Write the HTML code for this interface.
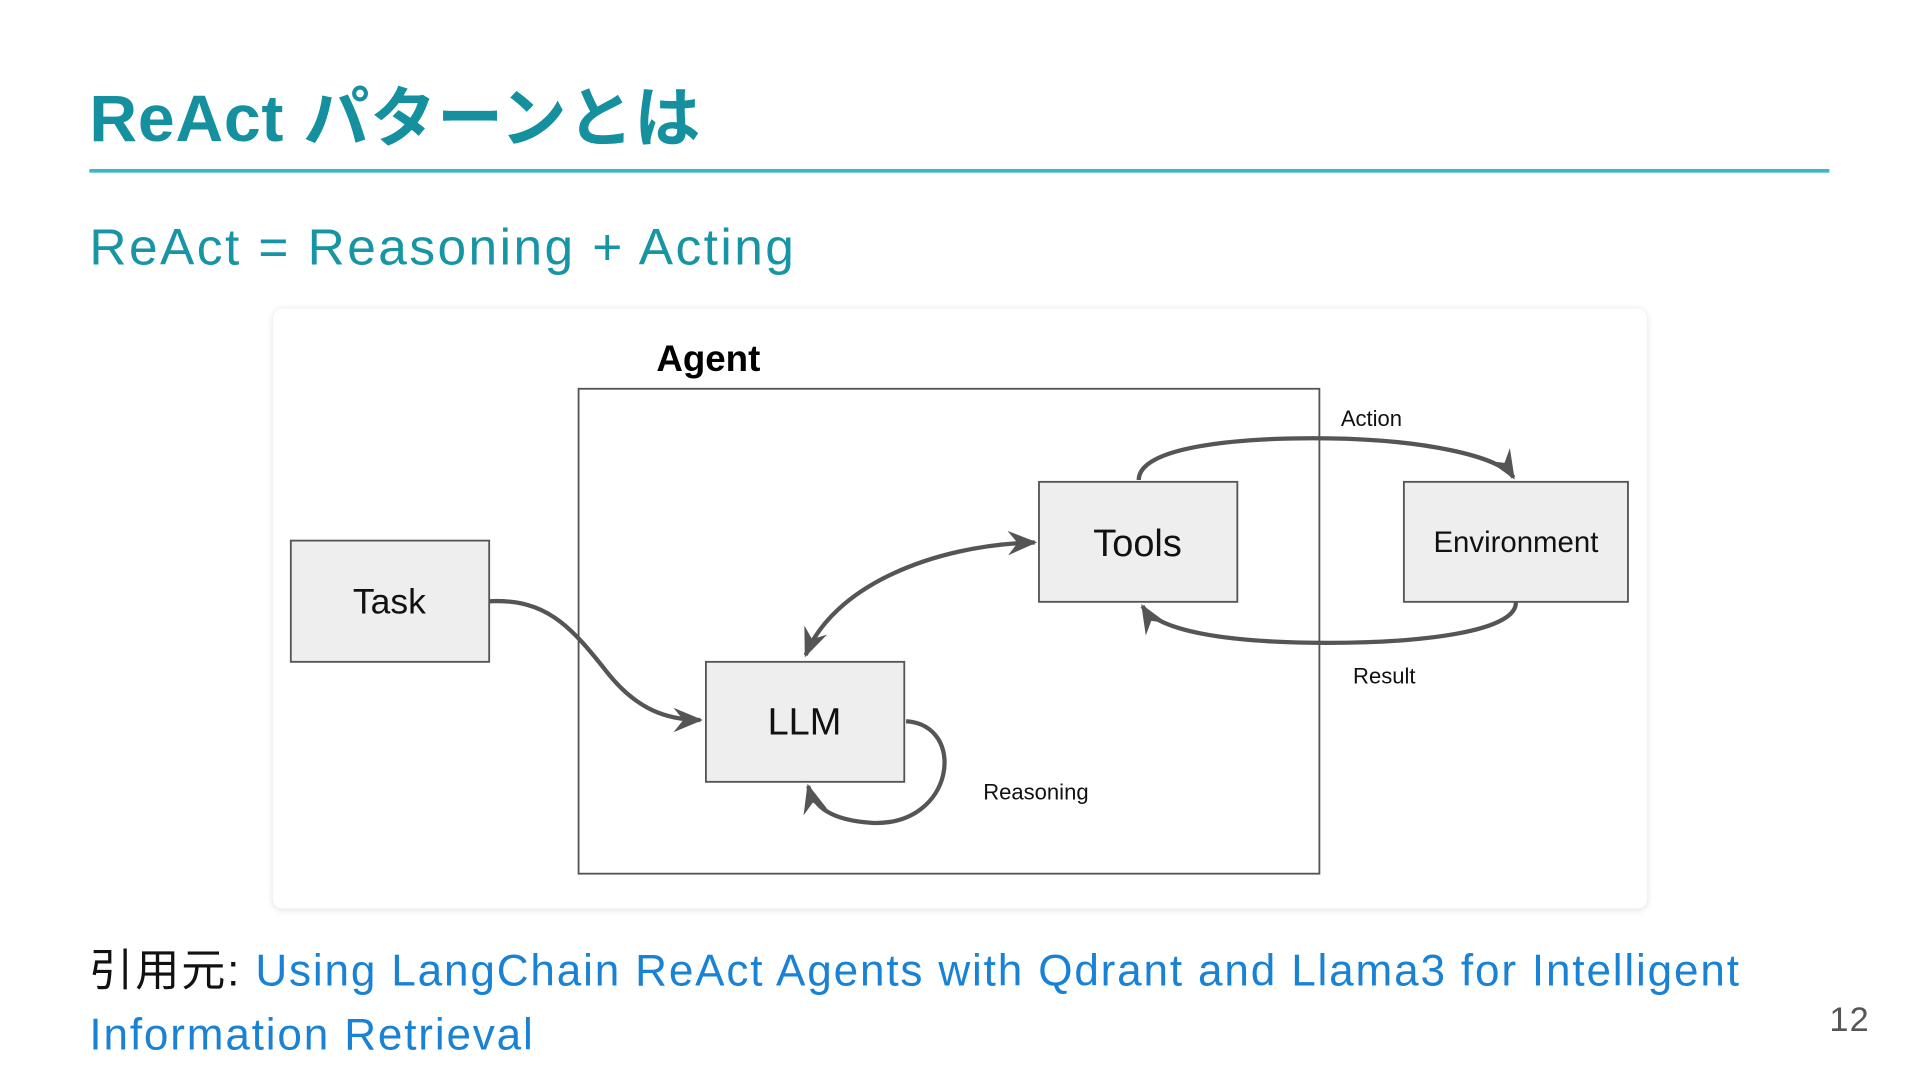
<!DOCTYPE html>
<html><head><meta charset="utf-8"><style>
html,body{margin:0;padding:0;background:#fff;width:1920px;height:1080px;overflow:hidden}
#s{position:absolute;left:0;top:0;width:1568px;height:882px;transform:scale(1.2244898);transform-origin:0 0;font-family:"Liberation Sans","Noto Sans CJK JP",sans-serif}
.t{position:absolute;left:73px;top:52px;font-size:54px;font-weight:bold;color:#14909f;letter-spacing:0.6px;white-space:nowrap}
.line{position:absolute;left:73px;top:138px;width:1421px;height:3px;background:#3cb6c6}
.sub{position:absolute;left:73px;top:178px;font-size:42px;color:#1795a5;white-space:nowrap;letter-spacing:2px}
.card{position:absolute;left:223px;top:252px;width:1122px;height:490px;background:#fff;border-radius:8px;box-shadow:0 1px 6px rgba(0,0,0,0.12)}
.foot{position:absolute;left:73px;top:767px;font-size:36px;line-height:52px;color:#111;width:1420px;letter-spacing:1.5px}
.foot span{color:#1a82d4}
.pg{position:absolute;left:1494px;top:817px;font-size:28px;color:#555;letter-spacing:1px}
</style></head><body><div id="s">
<div class="t">ReAct パターンとは</div>
<div class="line"></div>
<div class="sub">ReAct = Reasoning + Acting</div>
<div class="card"></div>
<svg width="1568" height="882" style="position:absolute;left:0;top:0" font-family="Liberation Sans, sans-serif">
<defs><marker id="b" viewBox="0 0 12 10" refX="11" refY="5" markerWidth="24" markerHeight="20" orient="auto-start-reverse" markerUnits="userSpaceOnUse"><path d="M0,0 L12,5 L0,10 L4,5 Z" fill="#555"/></marker></defs>
<text x="536" y="303" font-size="30" font-weight="bold" fill="#000">Agent</text>
<rect x="472.5" y="317.5" width="605" height="396" fill="none" stroke="#555" stroke-width="1.5"/>
<g fill="#eeeeee" stroke="#555" stroke-width="1.5">
<rect x="237.5" y="441.5" width="162" height="99"/>
<rect x="576.5" y="540.5" width="162" height="98"/>
<rect x="848.5" y="393.5" width="162" height="98"/>
<rect x="1146.5" y="393.5" width="183" height="98"/>
</g>
<g font-size="29" fill="#111" text-anchor="middle">
<text x="318" y="501">Task</text>
<text x="657" y="600" font-size="31">LLM</text>
<text x="929" y="454" font-size="31">Tools</text>
<text x="1238" y="451" font-size="24">Environment</text>
</g>
<g font-size="18" fill="#111">
<text x="1095" y="348">Action</text>
<text x="1105" y="558">Result</text>
<text x="803" y="653">Reasoning</text>
</g>
<g fill="none" stroke="#555" stroke-width="3.5">
<path d="M400,491 C445,489 465,510 495,548 C520,580 545,588 572,588" marker-end="url(#b)"/>
<path d="M658,535 C680,480 760,445 845,443" marker-start="url(#b)" marker-end="url(#b)"/>
<path d="M930,392 C930,365 1010,357 1085,358 C1160,359 1225,372 1236,390" marker-end="url(#b)"/>
<path d="M1238,492 C1238,516 1160,525 1085,525 C1000,525 945,515 933,495" marker-end="url(#b)"/>
<path d="M740,589 C790,592 780,675 712,672 C680,670 665,660 660,642" marker-end="url(#b)"/>
</g>
</svg>
<div class="foot">引用元: <span>Using LangChain ReAct Agents with Qdrant and Llama3 for Intelligent Information Retrieval</span></div>
<div class="pg">12</div>
</div></body></html>
